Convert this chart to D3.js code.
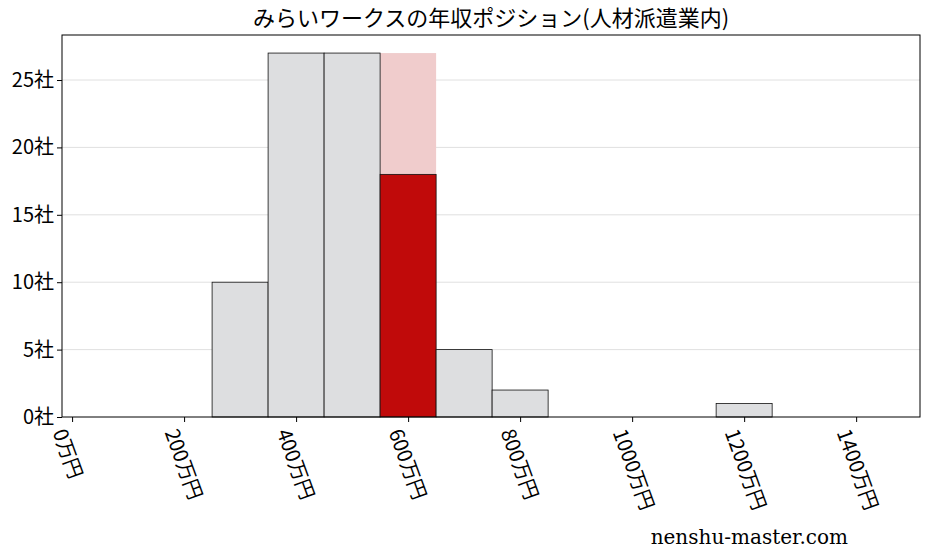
<!DOCTYPE html>
<html lang="ja">
<head>
<meta charset="UTF-8">
<script src="https://d3js.org/d3.v7.min.js"></script>
<style>body{margin:0;background:#fff}</style>
</head>
<body>
<svg width="928" height="557"></svg>
<script>
// data
var binCenters = [300, 400, 500, 600, 700, 800, 1200];
var counts = [10, 27, 27, 18, 5, 2, 1];
var highlightBin = 600;
var highlightMax = 27;
var xTicks = [0, 200, 400, 600, 800, 1000, 1200, 1400];
var yTicks = [0, 5, 10, 15, 20, 25];
var binWidth = 100;

var font = "'Noto Sans CJK JP', sans-serif";
var svg = d3.select("svg");
var m = {left: 62, right: 920, top: 35, bottom: 417};

var x = d3.scaleLinear().domain([-18, 1514]).range([m.left, m.right]);
var y = d3.scaleLinear().domain([0, 28.34]).range([m.bottom, m.top]);

// grid
svg.append("g").selectAll("line").data(yTicks.slice(1)).enter().append("line")
  .attr("x1", m.left).attr("x2", m.right)
  .attr("y1", function(d){ return y(d) }).attr("y2", function(d){ return y(d) })
  .attr("stroke", "#d8d8d8").attr("stroke-width", 0.8);

// pink background for highlight bin
svg.append("rect")
  .attr("x", x(highlightBin - binWidth/2)).attr("width", x(binWidth) - x(0))
  .attr("y", y(highlightMax)).attr("height", y(0) - y(highlightMax))
  .attr("fill", "#f0cccc");

// bars
svg.append("g").selectAll("rect").data(binCenters).enter().append("rect")
  .attr("x", function(d){ return x(d - binWidth/2) })
  .attr("width", x(binWidth) - x(0))
  .attr("y", function(d, i){ return y(counts[i]) })
  .attr("height", function(d, i){ return y(0) - y(counts[i]) })
  .attr("fill", function(d){ return d === highlightBin ? "#c00a0a" : "#dddee0" })
  .attr("stroke", "#111").attr("stroke-width", 0.8);

// frame
svg.append("rect").attr("x", m.left).attr("y", m.top)
  .attr("width", m.right - m.left).attr("height", m.bottom - m.top)
  .attr("fill", "none").attr("stroke", "#000").attr("stroke-width", 1);

// y axis
var ya = svg.append("g").attr("transform", "translate(" + m.left + ",0)")
  .call(d3.axisLeft(y).tickValues(yTicks).tickSize(5).tickFormat(function(d){ return d + "社" }));
ya.select(".domain").remove();
ya.selectAll("text").attr("font-family", font).attr("font-size", 20).attr("fill", "#000");

// x axis
var xa = svg.append("g").attr("transform", "translate(0," + m.bottom + ")")
  .call(d3.axisBottom(x).tickValues(xTicks).tickSize(5).tickFormat(function(d){ return d + "万円" }));
xa.select(".domain").remove();
xa.selectAll("text").attr("font-family", font).attr("font-size", 20).attr("fill", "#000")
  .attr("text-anchor", "start").attr("dy", "0.35em")
  .attr("transform", "translate(-6,10) rotate(70)");

// title
svg.append("text").attr("x", 491).attr("y", 26).attr("text-anchor", "middle")
  .attr("font-family", font).attr("font-size", 22)
  .text("みらいワークスの年収ポジション(人材派遣業内)");

svg.append("text").attr("x", 848).attr("y", 544).attr("text-anchor", "end")
  .attr("font-family", "'DejaVu Serif', serif").attr("font-size", 20)
  .text("nenshu-master.com");
</script>
</body>
</html>
